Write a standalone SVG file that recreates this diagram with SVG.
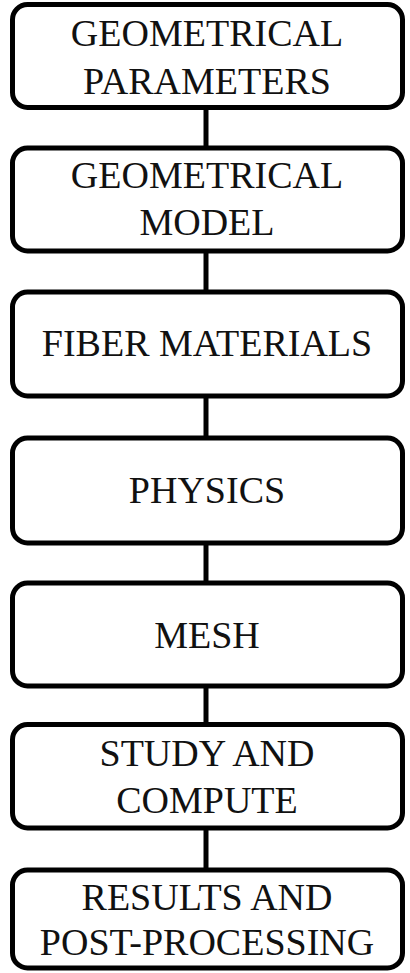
<svg xmlns="http://www.w3.org/2000/svg" width="410" height="973" viewBox="0 0 410 973">
<style>
.box{fill:#fff;stroke:#000;stroke-width:5}
.lbl{font-family:"Liberation Serif","Times New Roman",serif;font-size:38px;fill:#111;text-anchor:middle}
.con{stroke:#000;stroke-width:5;fill:none}
</style>
<rect width="410" height="973" fill="#fff"/>
<g id="connectors">
<line class="con" x1="206" y1="107" x2="206" y2="148"/>
<line class="con" x1="206" y1="251" x2="206" y2="292"/>
<line class="con" x1="206" y1="396" x2="206" y2="438"/>
<line class="con" x1="206" y1="543" x2="206" y2="583"/>
<line class="con" x1="206" y1="686" x2="206" y2="724"/>
<line class="con" x1="206" y1="828" x2="206" y2="870"/>
</g>
<g id="n1"><rect class="box" x="12.5" y="4.5" width="390" height="103" rx="15"/>
<text class="lbl" x="207" y="46">GEOMETRICAL</text><text class="lbl" x="207" y="94">PARAMETERS</text></g>
<g id="n2"><rect class="box" x="12.5" y="148" width="390" height="103" rx="15"/>
<text class="lbl" x="207" y="188">GEOMETRICAL</text><text class="lbl" x="207" y="235">MODEL</text></g>
<g id="n3"><rect class="box" x="12.5" y="292" width="390" height="104" rx="15"/>
<text class="lbl" x="207" y="356">FIBER MATERIALS</text></g>
<g id="n4"><rect class="box" x="12.5" y="438" width="390" height="105" rx="15"/>
<text class="lbl" x="207" y="503">PHYSICS</text></g>
<g id="n5"><rect class="box" x="12.5" y="583" width="390" height="103" rx="15"/>
<text class="lbl" x="207" y="648">MESH</text></g>
<g id="n6"><rect class="box" x="12.5" y="724.5" width="390" height="103.5" rx="15"/>
<text class="lbl" x="207" y="766">STUDY AND</text><text class="lbl" x="207" y="813">COMPUTE</text></g>
<g id="n7"><rect class="box" x="12.5" y="870" width="390" height="98" rx="15"/>
<text class="lbl" x="207" y="910">RESULTS AND</text><text class="lbl" x="207" y="955">POST-PROCESSING</text></g>
</svg>
